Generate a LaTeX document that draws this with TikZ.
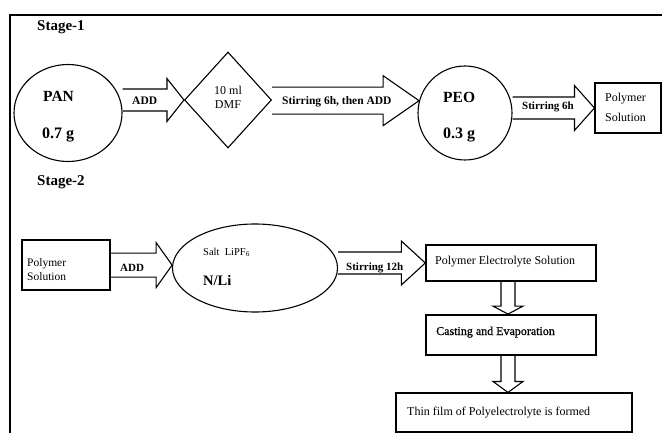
\documentclass[tikz,border=0pt]{standalone}
\usepackage{fontspec}
\setmainfont{Liberation Serif}
\usetikzlibrary{shapes.geometric,calc}
% horizontal block arrow: start, tip, shaft half width, head half width, head length
\newcommand\harr[5]{%
  \draw[blk] let \p1=(#1), \p2=(#2) in
    (\x1,\y2+#3) -- (\x2-#5,\y2+#3) -- (\x2-#5,\y2+#4) -- (\x2,\y2)
    -- (\x2-#5,\y2-#4) -- (\x2-#5,\y2-#3) -- (\x1,\y2-#3);}
% vertical (downward) block arrow
\newcommand\varr[5]{%
  \draw[blk] let \p1=(#1), \p2=(#2) in
    (\x2-#3,\y1) -- (\x2-#3,\y2+#5) -- (\x2-#4,\y2+#5) -- (\x2,\y2)
    -- (\x2+#4,\y2+#5) -- (\x2+#3,\y2+#5) -- (\x2+#3,\y1);}
\begin{document}
\begin{tikzpicture}[x=1pt,y=-1pt,
  shp/.style={draw, line width=1.1pt, inner sep=0pt},
  blk/.style={draw, line width=1.1pt, line join=miter},
  txt/.style={anchor=base west, inner sep=0pt},
  tr/.style={font=\fontsize{#1}{#1}\selectfont},
  tb/.style={font=\fontsize{#1}{#1}\selectfont\bfseries}]
\useasboundingbox (0,0) rectangle (662,433);
% frame
\draw[line width=2.2pt] (10,433) -- (10,15) -- (662,15);

% ---------- Stage 1 ----------
\node[txt, tb=15] (st1) at (37,31) {Stage-1};
\node[shp, ellipse, minimum width=108, minimum height=97] (pan) at (68,113) {};
\node[shp, diamond, minimum width=87, minimum height=96] (dmf) at (228,100) {};
\node[shp, circle, minimum size=94] (peo) at (465,113) {};
\node[shp, minimum width=66, minimum height=50] (ps1) at (628,108) {};

\harr{pan.east}{dmf.west}{11}{21.5}{17}
\harr{dmf.east}{peo.165}{13.5}{25}{36}
\harr{peo.east}{ps1.west}{11}{22.5}{20}

\node[txt, tb=15.5] (pant) at (43,102) {PAN};
\node[txt, tb=16] (pang) at (42,139) {0.7 g};
\node[txt, tb=11.5] (l1) at (132,105) {ADD};
\node[align=center, inner sep=0pt, font=\fontsize{12}{14}\selectfont] (dmft) at (228,97.5) {10 ml\\DMF};
\node[txt, tb=11.5] (l2) at (282,105) {Stirring 6h, then ADD};
\node[txt, tb=15.5] (peot) at (443,103) {PEO};
\node[txt, tb=16] (peog) at (443,139) {0.3 g};
\node[txt, tb=11] (l3) at (522,110) {Stirring 6h};
\node[txt, tr=12] (ps1a) at (605,102) {Polymer};
\node[txt, tr=12] (ps1b) at (605,122) {Solution};

% ---------- Stage 2 ----------
\node[txt, tb=15] (st2) at (37,186) {Stage-2};
\node[shp, minimum width=88, minimum height=50] (ps2) at (66,265) {};
\node[shp, ellipse, minimum width=165, minimum height=88] (salt) at (255,268) {};
\node[shp, line width=1.4pt, minimum width=170, minimum height=36] (pes) at (511,263) {};
\node[shp, line width=1.8pt, minimum width=170, minimum height=40] (cast) at (511,335) {};
\node[shp, minimum width=236, minimum height=39] (thin) at (514,412.5) {};

\harr{ps2.east}{salt.178}{12}{22.5}{16}
\harr{salt.east}{pes.west}{11}{22}{24}
\varr{pes.south}{$(cast.north)+(-3,0)$}{7}{15}{8}
\varr{cast.south}{$(thin.north)+(-6,0)$}{7}{15}{11}

\node[txt, tr=11.5] (ps2a) at (27,266) {Polymer};
\node[txt, tr=11.5] (ps2b) at (27,280) {Solution};
\node[txt, tb=11] (l4) at (120,271) {ADD};
\node[txt, tr=10.5] (saltt) at (203,255) {Salt\ \ LiPF\textsubscript{6}};
\node[txt, tb=14.5] (nli) at (203,285) {N/Li};
\node[txt, tb=11] (l5) at (346,270) {Stirring 12h};
\node[txt, tr=12] (pest) at (435,264) {Polymer Electrolyte Solution};
\node[txt, tr=12] (castt) at (436,335) {\addfontfeature{FakeBold=0.8}Casting and Evaporation};
\node[txt, tr=12] (thint) at (407,415) {Thin film of Polyelectrolyte is formed};
\end{tikzpicture}
\end{document}
